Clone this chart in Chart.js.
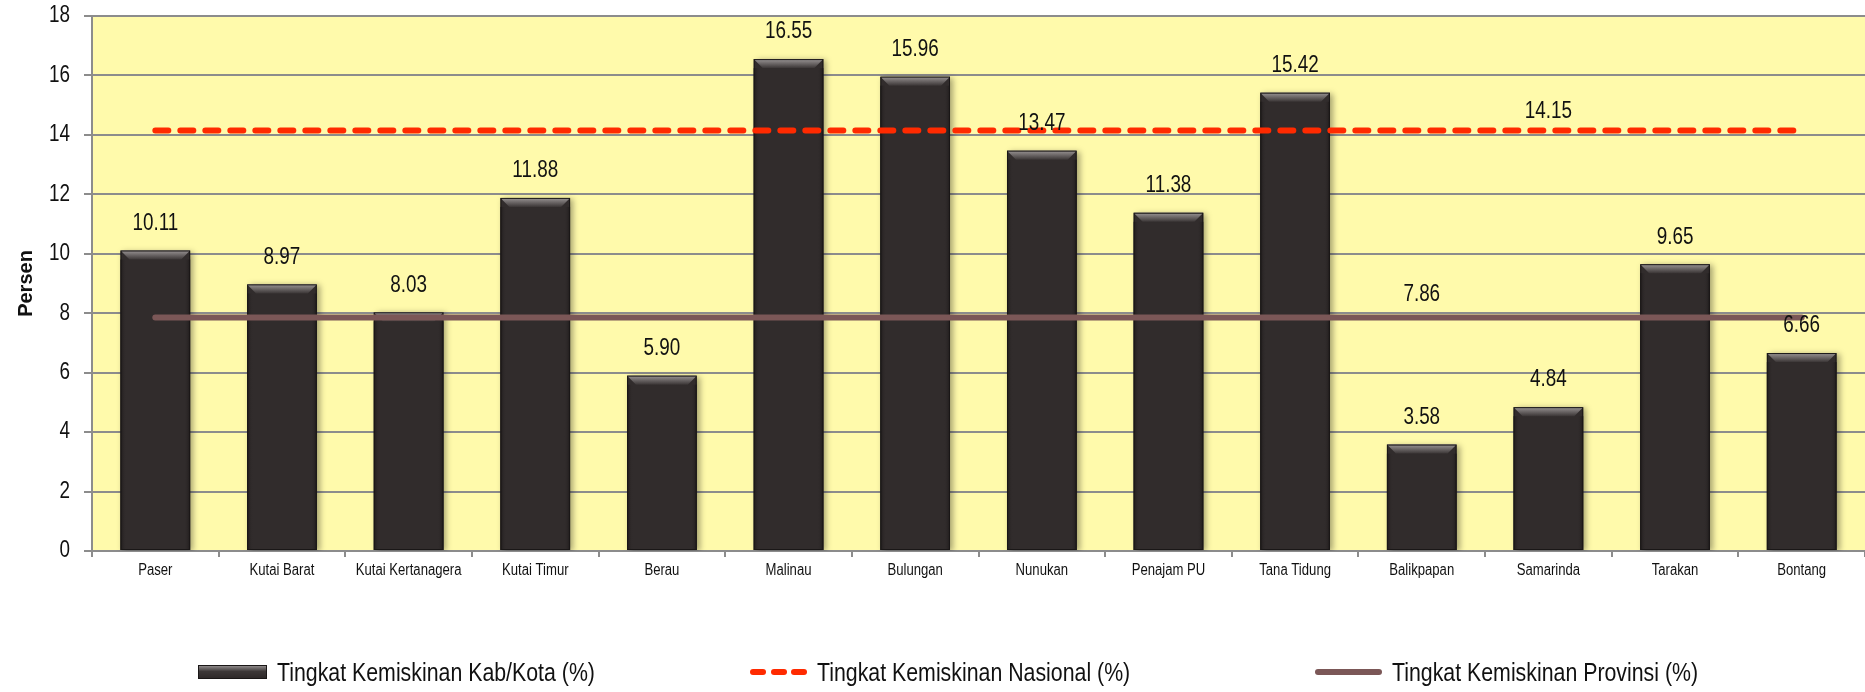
<!DOCTYPE html>
<html>
<head>
<meta charset="utf-8">
<script src="https://cdn.jsdelivr.net/npm/chart.js@4.4.1/dist/chart.umd.min.js"></script>
<style>
  html, body { margin: 0; padding: 0; background: #fff; }
  #wrap { position: relative; width: 1865px; height: 692px; overflow: hidden; }
  #legend { position: absolute; left: 0; top: 655px; width: 1865px; height: 34px;
    font-family: 'Liberation Sans', Arial, sans-serif; font-size: 26px; color: #111; }
  .item { position: absolute; top: 0; height: 34px; display: flex; align-items: center; white-space: nowrap; }
  .item .txt { display: inline-block; transform: scaleX(0.82); transform-origin: left center; }
  .mark { flex: none; margin-right: 10px; }
  .bar-mark { width: 69px; height: 14px; box-sizing: border-box; border: 1px solid #1a1717;
    background: linear-gradient(#8e8989, #3d3838 45%, #2f2a2a); }
  .dash-mark { width: 57px; height: 6px; display: flex; justify-content: space-between; }
  .dash-mark span { width: 16px; height: 6px; border-radius: 3px; background: #ff2a00; }
  .line-mark { width: 67px; height: 6px; border-radius: 3px; background: #7b5757; }
</style>
</head>
<body>
<div id="wrap">
  <canvas id="povertyChart" width="1865" height="692"></canvas>
  <div id="legend"></div>
</div>
<script>
  'use strict';

  // Data
  const regions = ['Paser', 'Kutai Barat', 'Kutai Kertanagera', 'Kutai Timur', 'Berau', 'Malinau', 'Bulungan',
    'Nunukan', 'Penajam PU', 'Tana Tidung', 'Balikpapan', 'Samarinda', 'Tarakan', 'Bontang'];
  const regionRates = [10.11, 8.97, 8.03, 11.88, 5.90, 16.55, 15.96, 13.47, 11.38, 15.42, 3.58, 4.84, 9.65, 6.66];
  const nationalRates = [14.15, 14.15, 14.15, 14.15, 14.15, 14.15, 14.15, 14.15, 14.15, 14.15, 14.15, 14.15, 14.15, 14.15];
  const provinceRates = [7.86, 7.86, 7.86, 7.86, 7.86, 7.86, 7.86, 7.86, 7.86, 7.86, 7.86, 7.86, 7.86, 7.86];
  const yTicks = [0, 2, 4, 6, 8, 10, 12, 14, 16, 18];

  const colors = {
    plot: '#fffaab',
    bar: '#312c2c',
    barEdge: '#1a1717',
    national: '#ff2a00',
    province: '#7b5757',
    grid: '#8c8c8c',
    text: '#111111'
  };
  const sans = "'Liberation Sans', Arial, sans-serif";

  // Draw text squeezed horizontally, like Arial Narrow
  function narrowText(ctx, text, x, y, size, align) {
    const squeeze = 0.82;
    ctx.save();
    ctx.font = size + 'px ' + sans;
    ctx.fillStyle = colors.text;
    ctx.textAlign = align;
    ctx.textBaseline = 'middle';
    ctx.translate(x, y);
    ctx.scale(squeeze, 1);
    ctx.fillText(text, 0, 0);
    ctx.restore();
  }

  // Yellow plot background
  const plotBackground = {
    id: 'plotBackground',
    beforeDraw(chart) {
      const { ctx, chartArea: a } = chart;
      ctx.save();
      ctx.fillStyle = colors.plot;
      ctx.fillRect(a.left, a.top, a.right - a.left, a.bottom - a.top);
      ctx.restore();
    }
  };

  // Shadow + bevel on the bars
  const barBevel = {
    id: 'barBevel',
    beforeDatasetDraw(chart, args) {
      if (args.index !== 0) return;
      const ctx = chart.ctx;
      ctx.save();
      ctx.shadowColor = 'rgba(0,0,0,0.35)';
      ctx.shadowBlur = 6;
      ctx.shadowOffsetX = 3;
      ctx.shadowOffsetY = 1;
    },
    afterDatasetDraw(chart, args) {
      if (args.index !== 0) return;
      const ctx = chart.ctx;
      ctx.restore();
      const b = 9;
      chart.getDatasetMeta(0).data.forEach(bar => {
        const l = bar.x - bar.width / 2, r = bar.x + bar.width / 2, t = bar.y, btm = bar.base;
        ctx.save();
        let g = ctx.createLinearGradient(0, t, 0, t + b);
        g.addColorStop(0, '#9a9595');
        g.addColorStop(1, '#3b3636');
        ctx.fillStyle = g;
        ctx.beginPath();
        ctx.moveTo(l, t); ctx.lineTo(r, t); ctx.lineTo(r - b, t + b); ctx.lineTo(l + b, t + b);
        ctx.closePath(); ctx.fill();
        g = ctx.createLinearGradient(l, 0, l + 6, 0);
        g.addColorStop(0, '#1e1a1a');
        g.addColorStop(1, 'rgba(49,44,44,0)');
        ctx.fillStyle = g;
        ctx.fillRect(l, t + b, 6, btm - t - b);
        g = ctx.createLinearGradient(r - 6, 0, r, 0);
        g.addColorStop(0, 'rgba(49,44,44,0)');
        g.addColorStop(1, '#1e1a1a');
        ctx.fillStyle = g;
        ctx.fillRect(r - 6, t + b, 6, btm - t - b);
        ctx.strokeStyle = colors.barEdge;
        ctx.lineWidth = 1;
        ctx.strokeRect(l + 0.5, t + 0.5, r - l - 1, btm - t - 1);
        ctx.restore();
      });
    }
  };

  // Tick labels in the narrow face
  const tickLabels = {
    id: 'tickLabels',
    afterDraw(chart) {
      const ctx = chart.ctx;
      const x = chart.scales.x, y = chart.scales.y;
      y.ticks.forEach(t => {
        narrowText(ctx, String(t.value), y.right - 8 - 14, y.getPixelForValue(t.value), 23, 'right');
      });
      regions.forEach((name, i) => {
        narrowText(ctx, name, x.getPixelForValue(i), x.top + 20, 16, 'center');
      });
    }
  };

  // Value labels above bars and on the reference lines
  const valueLabels = {
    id: 'valueLabels',
    afterDatasetsDraw(chart) {
      const ctx = chart.ctx;
      chart.getDatasetMeta(0).data.forEach((bar, i) => {
        narrowText(ctx, regionRates[i].toFixed(2), bar.x, bar.y - 27, 23, 'center');
      });
      const nat = chart.getDatasetMeta(1).data[11];
      narrowText(ctx, nationalRates[11].toFixed(2), nat.x, nat.y - 19, 23, 'center');
      const prov = chart.getDatasetMeta(2).data[10];
      narrowText(ctx, provinceRates[10].toFixed(2), prov.x, prov.y - 23, 23, 'center');
    }
  };

  const chart = new Chart(document.getElementById('povertyChart'), {
    type: 'bar',
    data: {
      labels: regions,
      datasets: [{
        label: 'Tingkat Kemiskinan Kab/Kota (%)',
        data: regionRates,
        backgroundColor: colors.bar,
        borderWidth: 0,
        categoryPercentage: 1,
        barPercentage: 0.55,
        order: 3
      }, {
        type: 'line',
        label: 'Tingkat Kemiskinan Nasional (%)',
        data: nationalRates,
        borderColor: colors.national,
        borderWidth: 6,
        borderDash: [13, 12],
        borderCapStyle: 'round',
        pointRadius: 0,
        fill: false,
        order: 1
      }, {
        type: 'line',
        label: 'Tingkat Kemiskinan Provinsi (%)',
        data: provinceRates,
        borderColor: colors.province,
        borderWidth: 6,
        borderCapStyle: 'round',
        pointRadius: 0,
        fill: false,
        order: 2
      }]
    },
    options: {
      responsive: false,
      devicePixelRatio: 1,
      animation: false,
      layout: { padding: { top: 16, right: 0, bottom: 101, left: 0 } },
      plugins: {
        legend: { display: false },
        tooltip: { enabled: false }
      },
      scales: {
        x: {
          grid: { drawOnChartArea: false, drawTicks: true, tickLength: 6, color: colors.grid, lineWidth: 2, offset: true },
          border: { color: colors.grid, width: 2 },
          ticks: { display: false, autoSkip: false },
          afterFit(scale) { scale.height = 40; }
        },
        y: {
          min: 0,
          max: 18,
          afterBuildTicks(scale) { scale.ticks = yTicks.map(v => ({ value: v })); },
          grid: { color: colors.grid, lineWidth: 2, tickLength: 8 },
          border: { color: colors.grid, width: 2 },
          ticks: { display: false },
          title: {
            display: true,
            text: 'Persen',
            color: colors.text,
            font: { family: sans, size: 20, weight: 'bold' },
            padding: { top: 14, bottom: 0 }
          },
          afterFit(scale) { scale.width = 92; }
        }
      }
    },
    plugins: [plotBackground, barBevel, valueLabels, tickLabels]
  });

  // HTML legend, spaced like the original
  const legendSlots = [198, 750, 1315];
  const markClass = ['bar-mark', 'dash-mark', 'line-mark'];
  const legend = document.getElementById('legend');
  chart.data.datasets.forEach((ds, i) => {
    const item = document.createElement('div');
    item.className = 'item';
    item.style.left = legendSlots[i] + 'px';
    const mark = document.createElement('div');
    mark.className = 'mark ' + markClass[i];
    if (i === 1) mark.innerHTML = '<span></span><span></span><span></span>';
    const text = document.createElement('span');
    text.className = 'txt';
    text.textContent = ds.label;
    item.appendChild(mark);
    item.appendChild(text);
    legend.appendChild(item);
  });
</script>
</body>
</html>
